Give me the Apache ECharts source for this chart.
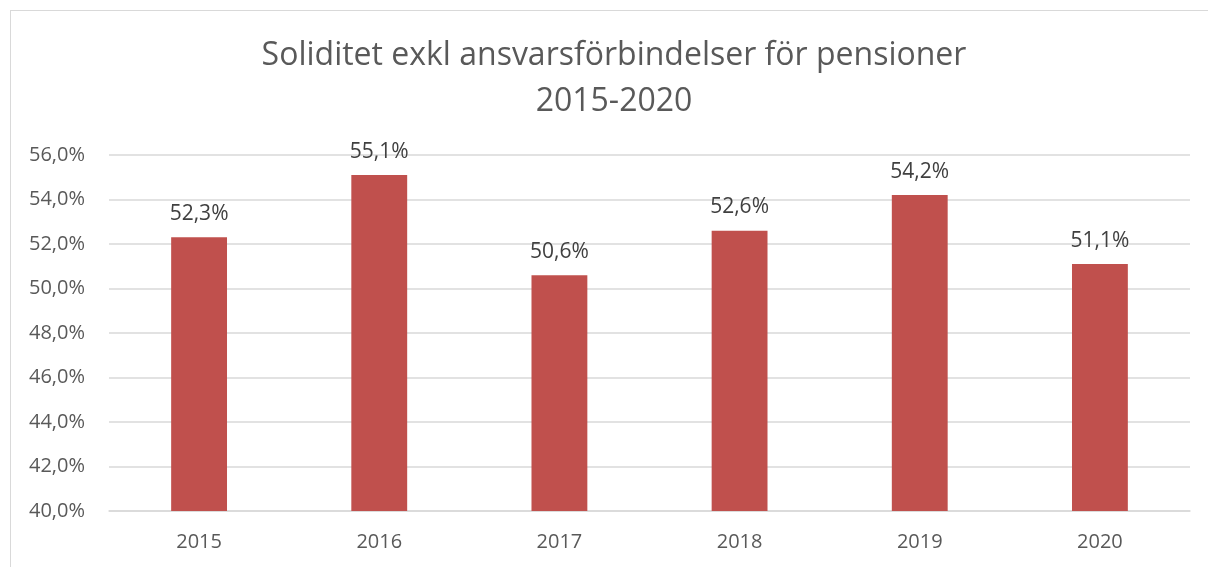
<!DOCTYPE html>
<html><head><meta charset="utf-8">
<script src="https://cdn.jsdelivr.net/npm/echarts@6/dist/echarts.min.js"></script>
<style>html,body{margin:0;padding:0;background:#fff}#c{width:1208px;height:567px}
#frame{position:absolute;left:10px;top:10px;width:1300px;height:700px;border:1px solid #d9d9d9;pointer-events:none}</style>
</head><body><div id="c"></div><div id="frame"></div>
<script>
const categories = ['2015','2016','2017','2018','2019','2020'];
const values = [52.3, 55.1, 50.6, 52.6, 54.2, 51.1];
const titleLines = ['Soliditet exkl ansvarsförbindelser för pensioner', '2015-2020'];
const fmt = v => v.toFixed(1).replace('.', ',') + '%';
const chart = echarts.init(document.getElementById('c'));
chart.setOption({
  animation: false,
  title: {
    text: titleLines.join('\n'), left: 609, top: 28, textAlign: 'center',
    textStyle: { fontFamily: 'Open Sans', fontSize: 32, fontWeight: 'normal', color: '#595959', lineHeight: 46 }
  },
  grid: { left: 109, right: 18, top: 155, bottom: 56 },
  xAxis: {
    type: 'category', data: categories,
    axisLine: { lineStyle: { color: '#d9d9d9', width: 1.5 } },
    axisTick: { show: false },
    axisLabel: { fontFamily: 'Open Sans', fontSize: 20, color: '#595959', margin: 21 }
  },
  yAxis: {
    type: 'value', min: 40, max: 56, interval: 2,
    axisLine: { show: false }, axisTick: { show: false },
    splitLine: { lineStyle: { color: '#d9d9d9', width: 1.5 } },
    axisLabel: { fontFamily: 'Open Sans', fontSize: 20, color: '#595959', margin: 24, formatter: v => fmt(v) }
  },
  series: [{
    type: 'bar', data: values, barWidth: '31%',
    itemStyle: { color: '#C0504D' },
    label: { show: true, position: 'top', distance: 13, fontFamily: 'Open Sans', fontSize: 21, color: '#404040', formatter: p => fmt(p.value) }
  }]
});
</script></body></html>
